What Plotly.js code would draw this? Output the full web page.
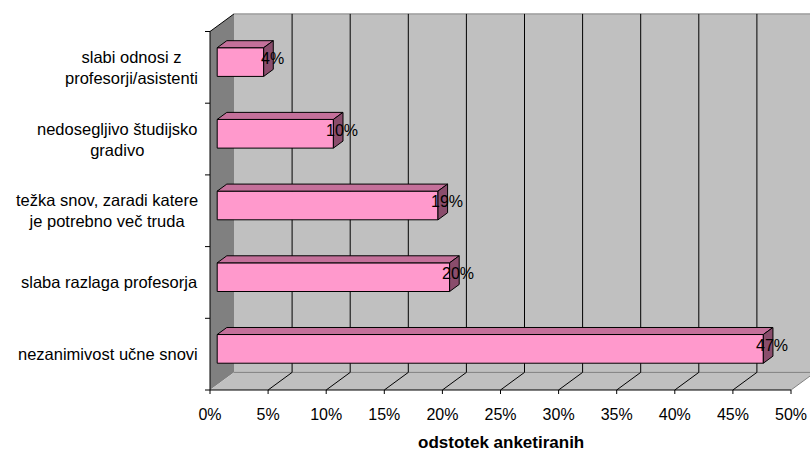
<!DOCTYPE html>
<html>
<head>
<meta charset="utf-8">
<script src="https://cdn.plot.ly/plotly-3.0.1.min.js"></script>
<style>html,body{margin:0;padding:0;background:#fff;}#chart{width:810px;height:453px;}</style>
</head>
<body>
<div id="chart"></div>
<script>
// ---- data ----
const categories = [
  'nezanimivost učne snovi',
  'slaba razlaga profesorja',
  'težka snov, zaradi katere<br>je potrebno več truda',
  'nedosegljivo študijsko<br>gradivo',
  'slabi odnosi z<br>profesorji/asistenti'
];
const values = [47, 20, 19, 10, 4];
const tickValues = [0, 5, 10, 15, 20, 25, 30, 35, 40, 45, 50];
const tickLabels = ['0%', '5%', '10%', '15%', '20%', '25%', '30%', '35%', '40%', '45%', '50%'];
const axisTitle = 'odstotek anketiranih';

// ---- geometry (pixel scale of the pseudo-3D box) ----
const W = 810, Hh = 453;
const mL = 205, mR = 0, mT = 13, mB = 58;
const PX = 11.62;      // px per 1 %
const PY = 71.7;       // px per category band
const DX = 24 / PX;    // depth offset in x units
const DY = 17.6 / PY;  // depth offset in y units
const F0 = 0.3, F1 = 0.7, BW = 0.4;
const xmin = -5 / PX, xmax = xmin + (W - mL - mR) / PX;
const ymin = -0.5 - 5 / PY, ymax = -0.5 + (390 - mT) / PY;
const FONT = 'Liberation Sans, Arial, sans-serif';

const idx = categories.map((_, i) => i);
const traces = [];

// front faces
traces.push({
  type: 'bar', orientation: 'h',
  y: idx.map(i => i + F0 * DY), x: values, base: values.map(() => F0 * DX),
  width: BW,
  marker: {color: '#ff99cc', line: {color: '#000', width: 1}},
  hoverinfo: 'skip', showlegend: false
});
// top and side faces
values.forEach((v, i) => {
  const x0f = F0 * DX, x1f = v + F0 * DX, x0b = F1 * DX, x1b = v + F1 * DX;
  const yTf = i + F0 * DY + BW / 2, yTb = i + F1 * DY + BW / 2;
  const yBf = i + F0 * DY - BW / 2, yBb = i + F1 * DY - BW / 2;
  traces.push({
    type: 'scatter', mode: 'lines', fill: 'toself', fillcolor: '#c4709a',
    x: [x0f, x1f, x1b, x0b, x0f], y: [yTf, yTf, yTb, yTb, yTf],
    line: {color: '#000', width: 1}, hoverinfo: 'skip', showlegend: false
  });
  traces.push({
    type: 'scatter', mode: 'lines', fill: 'toself', fillcolor: '#8a4d6c',
    x: [x1f, x1b, x1b, x1f, x1f], y: [yTf, yTb, yBb, yBf, yTf],
    line: {color: '#000', width: 1}, hoverinfo: 'skip', showlegend: false
  });
});

// walls, floor, grid
const shapes = [];
const yb = -0.5, yt = categories.length - 0.5;
shapes.push({type: 'rect', layer: 'below', x0: DX, x1: 60, y0: yb + DY, y1: yt + DY,
  fillcolor: '#c0c0c0', line: {width: 0}});
shapes.push({type: 'path', layer: 'below',
  path: `M ${0} ${yb} L ${DX} ${yb + DY} L ${DX} ${yt + DY} L ${0} ${yt} Z`,
  fillcolor: '#808080', line: {width: 0}});
shapes.push({type: 'path', layer: 'below',
  path: `M ${0} ${yb} L ${DX} ${yb + DY} L ${50 + DX} ${yb + DY} L ${50} ${yb} Z`,
  fillcolor: '#c0c0c0', line: {width: 0}});
shapes.push({type: 'line', layer: 'below', x0: DX, x1: 60, y0: yt + DY, y1: yt + DY, line: {color: '#808080', width: 1}});
shapes.push({type: 'line', layer: 'below', x0: DX, x1: 60, y0: yb + DY, y1: yb + DY, line: {color: '#808080', width: 1}});
shapes.push({type: 'line', layer: 'below', x0: 50, x1: 50 + DX, y0: yb, y1: yb + DY, line: {color: '#808080', width: 1}});
tickValues.forEach(t => {
  if (t > 0 && t < 50) {
    shapes.push({type: 'line', layer: 'below', x0: t + DX, x1: t + DX, y0: yb + DY, y1: yt + DY, line: {color: '#000', width: 1}});
    shapes.push({type: 'line', layer: 'below', x0: t, x1: t + DX, y0: yb, y1: yb + DY, line: {color: '#000', width: 1}});
  }
  // x tick marks
  shapes.push({type: 'line', layer: 'above', x0: t, x1: t, y0: yb, y1: yb - 4 / PY, line: {color: '#000', width: 1}});
});
// axis lines
shapes.push({type: 'line', layer: 'above', x0: 0, x1: 0, y0: yb, y1: yt, line: {color: '#000', width: 1}});
shapes.push({type: 'line', layer: 'above', x0: 0, x1: DX, y0: yt, y1: yt + DY, line: {color: '#000', width: 1}});
shapes.push({type: 'line', layer: 'above', x0: 0, x1: 50, y0: yb, y1: yb, line: {color: '#000', width: 1}});
for (let k = 0; k <= categories.length; k++) {
  shapes.push({type: 'line', layer: 'above', x0: -5 / PX, x1: 0, y0: k - 0.5, y1: k - 0.5, line: {color: '#000', width: 1}});
}

// annotations
const annotations = [];
categories.forEach((c, i) => {
  annotations.push({xref: 'paper', yref: 'y', x: (200 - mL) / (W - mL - mR), y: i,
    xanchor: 'right', yanchor: 'middle', align: 'center', showarrow: false,
    text: c, font: {family: FONT, size: 16.5, color: '#000'}});
});
values.forEach((v, i) => {
  annotations.push({xref: 'x', yref: 'y', x: v + 0.5 * DX + 0.35, y: i + 0.5 * DY,
    xanchor: 'center', yanchor: 'middle', showarrow: false,
    text: v + '%', font: {family: FONT, size: 16, color: '#000'}});
});
annotations.push({xref: 'paper', yref: 'paper', x: (500.5 - mL) / (W - mL - mR),
  y: (395 - 442) / (395 - mT), xanchor: 'center', yanchor: 'middle', showarrow: false,
  borderpad: 0,
  text: '<b>' + axisTitle + '</b>', font: {family: FONT, size: 17, color: '#000'}});

const layout = {
  width: W, height: Hh,
  margin: {l: mL, r: mR, t: mT, b: mB, pad: 0},
  paper_bgcolor: '#fff', plot_bgcolor: '#fff',
  showlegend: false,
  xaxis: {range: [xmin, xmax], tickvals: tickValues, ticktext: tickLabels,
    ticks: '', showgrid: false, zeroline: false, showline: false,
    tickfont: {family: FONT, size: 16, color: '#000'}, ticklabelstandoff: 8, fixedrange: true},
  yaxis: {range: [ymin, ymax], showticklabels: false, ticks: '', showgrid: false,
    zeroline: false, showline: false, fixedrange: true},
  shapes: shapes, annotations: annotations
};

Plotly.newPlot('chart', traces, layout, {displayModeBar: false, staticPlot: true});
</script>
</body>
</html>
